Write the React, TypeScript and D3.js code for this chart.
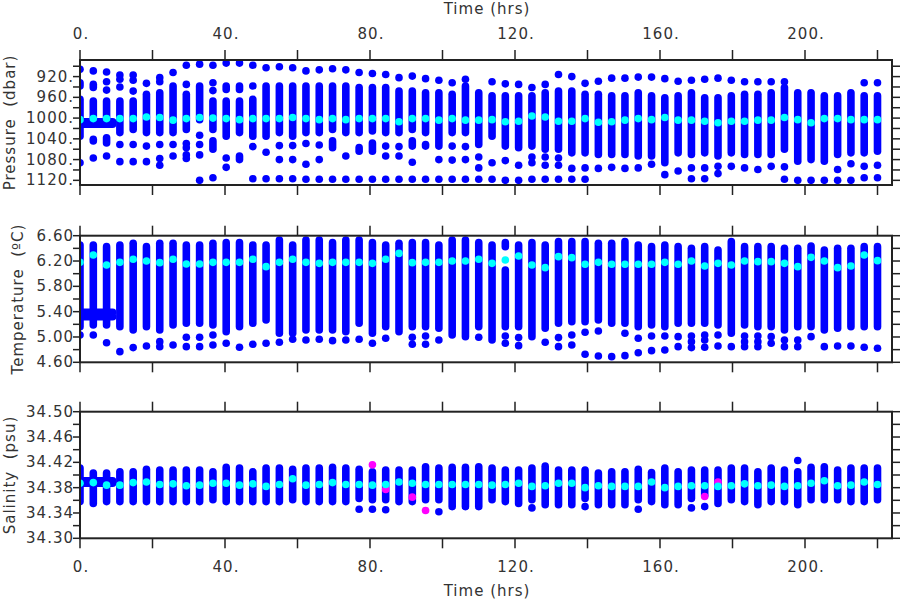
import React from 'react';
import * as d3 from 'd3';

// ---------- data ----------
const times = [0, 3.67, 7.33, 11, 14.67, 18.33, 22, 25.67, 29.33, 33, 36.67, 40.33, 44, 47.67, 51.33, 55, 58.67, 62.33, 66, 69.67, 73.33, 77, 80.67, 84.33, 88, 91.67, 95.33, 99, 102.67, 106.33, 110, 113.67, 117.33, 121, 124.67, 128.33, 132, 135.67, 139.33, 143, 146.67, 150.33, 154, 157.67, 161.33, 165, 168.67, 172.33, 176, 179.67, 183.33, 187, 190.67, 194.33, 198, 201.67, 205.33, 209, 212.67, 216.33, 220];

// each column: list of dense runs [a,b] or single samples [v]
const pressureCols = [
  [[906], [932, 938], [964, 1035], [1086]],
  [[909], [935, 941], [967, 1012], [1041, 1044], [1077]],
  [[911], [930], [946], [967, 1012], [1038, 1048], [1073]],
  [[917], [925], [940], [967, 1028], [1051], [1084]],
  [[917], [927], [948], [967, 1022], [1051], [1084]],
  [[933], [954, 1028], [1054], [1084]],
  [[922], [930], [951, 1028], [1051], [1078], [1091]],
  [[912], [938, 1028], [1051], [1073]],
  [[898], [935], [954, 1022], [1049], [1057], [1071], [1078]],
  [[896], [938, 1003], [1033], [1051], [1071], [1120]],
  [[898], [932], [947], [967, 1022], [1044, 1060], [1115]],
  [[894], [938, 945], [967, 1035], [1077], [1095]],
  [[894], [938, 945], [967, 1028], [1073, 1080]],
  [[898], [938], [964, 1035], [1055], [1117]],
  [[903], [938, 1035], [1066], [1117]],
  [[901], [938, 1028], [1053], [1080], [1117]],
  [[903], [938, 1035], [1053], [1080], [1117]],
  [[909], [938, 1028], [1049], [1089], [1118]],
  [[907], [938, 1028], [1052], [1080], [1118]],
  [[905], [938, 1022], [1044, 1057], [1118]],
  [[907], [938, 1028], [1073], [1118]],
  [[912], [941, 1028], [1057, 1064], [1118]],
  [[914], [941, 1025], [1048, 1064], [1118]],
  [[916], [941, 1028], [1054], [1073], [1118]],
  [[922], [948, 1028], [1055], [1073], [1118]],
  [[919], [948, 1022], [1044, 1054], [1085], [1118]],
  [[924], [951, 1028], [1051, 1054], [1118]],
  [[927], [951, 1054], [1080], [1118]],
  [[932], [954, 1028], [1054], [1081], [1118]],
  [[925], [938, 1028], [1055], [1080], [1118]],
  [[951, 1051], [1075], [1096], [1118]],
  [[930], [957, 1035], [1086], [1118]],
  [[934], [957, 1054], [1082], [1120]],
  [[935], [957, 1057], [1091], [1120]],
  [[941], [957, 1054], [1075], [1086], [1118]],
  [[935], [951, 1060], [1075], [1091], [1118]],
  [[916], [948, 1060], [1077], [1091], [1118]],
  [[920], [948, 1067], [1097], [1118]],
  [[933], [954, 1067], [1096], [1118]],
  [[929], [954, 1070], [1097]],
  [[923], [957, 1070], [1095]],
  [[923], [957, 1070], [1097]],
  [[921], [951, 1073], [1096]],
  [[921], [957, 1073], [1089]],
  [[924], [961, 1086], [1109]],
  [[929], [957, 1067], [1102]],
  [[927], [951, 1070], [1096], [1117]],
  [[925], [961, 1067], [1096], [1117]],
  [[923], [961, 1073], [1093], [1107]],
  [[927], [957, 1067], [1093]],
  [[930], [954, 1070], [1096]],
  [[930], [954, 1070], [1099]],
  [[930], [951, 1070], [1093]],
  [[930], [941, 1060], [1094], [1118]],
  [[951, 1083], [1120]],
  [[951, 1080], [1120]],
  [[957, 1083], [1120]],
  [[957, 1070], [1099], [1120]],
  [[951, 1067], [1088], [1120]],
  [[932], [957, 1067], [1093], [1115]],
  [[932], [957, 1064], [1091], [1115]],
];
const pressureMeans = [1003, 1001, 1001, 1001, 1001, 998, 999, 1004, 1001, 999, 1000, 1001, 1003, 1001, 1001, 1001, 999, 1001, 1003, 1001, 1003, 1001, 1001, 1001, 1007, 1001, 1001, 1004, 1001, 1004, 1004, 1003, 1007, 1006, 996, 998, 1006, 1006, 1001, 1008, 1007, 1004, 1001, 1003, 999, 1004, 1004, 1006, 1009, 1006, 1006, 1004, 1004, 999, 1003, 1009, 1001, 1001, 1003, 1003, 1003];

const temperatureCols = [
  [[5.163, 6.453], [5.032]],
  [[5.19, 6.453], [5.032]],
  [[5.19, 6.427], [4.91]],
  [[5.163, 6.453], [4.768]],
  [[5.111, 6.479], [4.832]],
  [[5.163, 6.427], [4.858]],
  [[5.111, 6.479], [4.926], [4.847]],
  [[5.19, 6.479], [4.874]],
  [[5.216, 6.453], [4.995], [4.847]],
  [[5.216, 6.453], [4.995], [4.847]],
  [[5.19, 6.479], [5.032], [4.874]],
  [[5.084, 6.49], [4.9]],
  [[5.163, 6.49], [4.837]],
  [[5.216, 6.453], [4.884]],
  [[5.268, 6.453], [4.9]],
  [[5.058, 6.532], [4.916]],
  [[5.058, 6.453], [4.963]],
  [[5.111, 6.532], [4.953]],
  [[5.111, 6.532], [4.963]],
  [[5.111, 6.49], [4.942]],
  [[5.084, 6.532], [4.953]],
  [[5.216, 6.532], [4.963]],
  [[5.058, 6.49], [4.9]],
  [[5.163, 6.453], [4.979]],
  [[5.084, 6.479]],
  [[5.163, 6.49], [4.995], [4.884]],
  [[5.163, 6.49], [5.016], [4.884]],
  [[5.137, 6.453], [4.953]],
  [[5.032, 6.532]],
  [[5.005, 6.532]],
  [[5.163, 6.49], [4.995]],
  [[4.953, 6.453]],
  [[6.427, 6.49], [5.163, 6.058], [5.016], [4.9]],
  [[5.163, 6.453], [4.99], [4.863]],
  [[5.005, 6.49]],
  [[5.137, 6.453], [4.916]],
  [[5.216, 6.506], [4.99], [4.847]],
  [[5.242, 6.506], [5.032], [4.874]],
  [[5.242, 6.506], [5.074], [4.726]],
  [[5.268, 6.479], [5.095], [4.7]],
  [[5.216, 6.479], [4.689]],
  [[5.216, 6.506], [5.058], [4.705]],
  [[5.163, 6.453], [4.979], [4.752]],
  [[5.19, 6.427], [5.016], [4.784]],
  [[5.163, 6.453], [5.016], [4.795]],
  [[5.216, 6.427], [5.005], [4.847]],
  [[5.216, 6.4], [5.016], [4.926], [4.832]],
  [[5.216, 6.427], [5.032], [4.953], [4.837]],
  [[5.19, 6.374], [5.032], [4.858]],
  [[5.058, 6.506], [4.847]],
  [[5.19, 6.427], [5.016], [4.926], [4.847]],
  [[5.163, 6.427], [5.016], [4.926], [4.847]],
  [[5.163, 6.427], [5.005], [4.9]],
  [[5.111, 6.4], [4.953], [4.847]],
  [[5.163, 6.4], [4.953], [4.847]],
  [[5.163, 6.437], [5.005]],
  [[5.111, 6.374], [4.847]],
  [[5.137, 6.4], [4.858]],
  [[5.163, 6.4], [4.858]],
  [[5.163, 6.427], [4.837]],
  [[5.163, 6.427], [4.821]],
];
const temperatureMeans = [6.179, 6.295, 6.137, 6.179, 6.227, 6.2, 6.174, 6.227, 6.153, 6.153, 6.179, 6.179, 6.179, 6.227, 6.111, 6.179, 6.227, 6.179, 6.163, 6.179, 6.179, 6.179, 6.163, 6.227, 6.321, 6.174, 6.179, 6.179, 6.2, 6.2, 6.227, 6.163, 6.216, 6.279, 6.137, 6.095, 6.269, 6.253, 6.148, 6.179, 6.148, 6.148, 6.148, 6.148, 6.179, 6.148, 6.2, 6.121, 6.163, 6.137, 6.2, 6.19, 6.19, 6.163, 6.111, 6.258, 6.2, 6.095, 6.121, 6.295, 6.206];

const salinityCols = [
  [[34.358, 34.411]],
  [[34.355, 34.403]],
  [[34.358, 34.403]],
  [[34.358, 34.405]],
  [[34.358, 34.405]],
  [[34.358, 34.409]],
  [[34.358, 34.408]],
  [[34.358, 34.408]],
  [[34.358, 34.408]],
  [[34.358, 34.408]],
  [[34.361, 34.405]],
  [[34.358, 34.412]],
  [[34.358, 34.411]],
  [[34.358, 34.405]],
  [[34.358, 34.411]],
  [[34.358, 34.411]],
  [[34.361, 34.409]],
  [[34.358, 34.411]],
  [[34.358, 34.411]],
  [[34.358, 34.412]],
  [[34.358, 34.411]],
  [[34.363, 34.409], [34.346]],
  [[34.361, 34.405], [34.346]],
  [[34.361, 34.408], [34.345]],
  [[34.358, 34.408]],
  [[34.358, 34.408]],
  [[34.361, 34.413]],
  [[34.361, 34.411], [34.342]],
  [[34.35, 34.412]],
  [[34.35, 34.412]],
  [[34.35, 34.413]],
  [[34.361, 34.411]],
  [[34.358, 34.408]],
  [[34.355, 34.408]],
  [[34.361, 34.411], [34.348]],
  [[34.353, 34.414]],
  [[34.353, 34.408]],
  [[34.353, 34.408]],
  [[34.363, 34.408], [34.35]],
  [[34.353, 34.403]],
  [[34.353, 34.405]],
  [[34.353, 34.405]],
  [[34.361, 34.409], [34.346]],
  [[34.358, 34.404]],
  [[34.353, 34.411]],
  [[34.353, 34.405]],
  [[34.363, 34.408], [34.348]],
  [[34.368, 34.408], [34.35]],
  [[34.355, 34.408]],
  [[34.361, 34.411]],
  [[34.358, 34.411]],
  [[34.353, 34.405]],
  [[34.358, 34.411]],
  [[34.358, 34.408]],
  [[34.423], [34.353, 34.405]],
  [[34.361, 34.412]],
  [[34.361, 34.413]],
  [[34.361, 34.408]],
  [[34.358, 34.411]],
  [[34.358, 34.411]],
  [[34.361, 34.411]],
];
const salinityMeans = [34.387, 34.388, 34.384, 34.384, 34.388, 34.389, 34.385, 34.386, 34.383, 34.384, 34.387, 34.387, 34.384, 34.386, 34.382, 34.385, 34.394, 34.384, 34.385, 34.388, 34.385, 34.385, 34.384, 34.385, 34.389, 34.387, 34.385, 34.385, 34.385, 34.385, 34.385, 34.384, 34.385, 34.387, 34.382, 34.383, 34.387, 34.387, 34.38, 34.383, 34.382, 34.382, 34.382, 34.389, 34.38, 34.382, 34.383, 34.383, 34.382, 34.383, 34.386, 34.383, 34.384, 34.382, 34.383, 34.387, 34.391, 34.383, 34.384, 34.389, 34.385];
// flagged salinity samples: [column index, value]
const salinityFlagged = [[22, 34.416], [23, 34.377], [25, 34.365], [26, 34.344], [47, 34.366], [48, 34.389]];

// initial stationary segment (hours) and its levels
const stationTimes = [0, 9];
const pressureStation = [1007, 1012];
const temperatureStation = [5.32, 5.39];
const salinityStation = [34.387, 34.391];

const timeTicks = [0, 20, 40, 60, 80, 100, 120, 140, 160, 180, 200, 220];
const timeLabels = [0, 40, 80, 120, 160, 200];
const pressureTicks = [900, 920, 940, 960, 980, 1000, 1020, 1040, 1060, 1080, 1100, 1120];
const pressureLabels = [920, 960, 1000, 1040, 1080, 1120];
const temperatureTicks = [4.6, 4.8, 5.0, 5.2, 5.4, 5.6, 5.8, 6.0, 6.2, 6.4, 6.6];
const temperatureLabels = [4.6, 5.0, 5.4, 5.8, 6.2, 6.6];
const salinityTicks = [34.30, 34.32, 34.34, 34.36, 34.38, 34.40, 34.42, 34.44, 34.46, 34.48, 34.50];
const salinityLabels = [34.30, 34.34, 34.38, 34.42, 34.46, 34.50];

// ---------- layout ----------
const W = 900, H = 600;
const X0 = 80, X1 = 892;
const BLUE = '#0000ff', CYAN = '#00ffff', MAGENTA = '#ff00ff';
const INK = '#222';
const TXT = '#333';
const R = 3.8;
const FONT = "'DejaVu Sans', sans-serif";

const x = d3.scaleLinear().domain([0, 224]).range([X0, X1]);

type Panel = {
  id: string; top: number; bottom: number; domain: [number, number];
  cols: number[][][]; means: number[]; station: number[];
  ticks: number[]; labels: number[]; fmt: (v: number) => string;
  title: string; titleX: number; flagged?: number[][];
};

const panels: Panel[] = [
  { id: 'p', top: 60, bottom: 185, domain: [1129, 888], cols: pressureCols, means: pressureMeans, station: pressureStation,
    ticks: pressureTicks, labels: pressureLabels, fmt: (v) => d3.format('d')(v) + '.', title: 'Pressure  (dbar)', titleX: 10 },
  { id: 't', top: 235.7, bottom: 362.3, domain: [4.6, 6.6], cols: temperatureCols, means: temperatureMeans, station: temperatureStation,
    ticks: temperatureTicks, labels: temperatureLabels, fmt: d3.format('.2f'), title: 'Temperature  (ºC)', titleX: 18 },
  { id: 's', top: 411.7, bottom: 538.3, domain: [34.3, 34.5], cols: salinityCols, means: salinityMeans, station: salinityStation,
    ticks: salinityTicks, labels: salinityLabels, fmt: d3.format('.2f'), title: 'Salinity  (psu)', titleX: 10, flagged: salinityFlagged },
];

function PanelView({ p, first, last }: { p: Panel; first: boolean; last: boolean }) {
  const y = d3.scaleLinear().domain(p.domain).range([p.bottom, p.top]);
  const clipId = `clip-${p.id}`;
  const isLabel = (v: number) => p.labels.some((l) => Math.abs(l - v) < 1e-6);
  const textProps = { fontFamily: FONT, fontSize: 15, letterSpacing: 1, fill: TXT };
  return (
    <g>
      <defs>
        <clipPath id={clipId}>
          <rect x={X0} y={p.top} width={X1 - X0} height={p.bottom - p.top} />
        </clipPath>
      </defs>
      <g clipPath={`url(#${clipId})`}>
        {p.cols.map((col, i) =>
          col.map((seg, j) =>
            seg.length === 1 ? (
              <circle key={`${i}-${j}`} cx={x(times[i])} cy={y(seg[0])} r={R} fill={BLUE} />
            ) : (
              <line key={`${i}-${j}`} x1={x(times[i])} x2={x(times[i])} y1={y(seg[0])} y2={y(seg[1])}
                stroke={BLUE} strokeWidth={R * 2} strokeLinecap="round" />
            )
          )
        )}
        {p.station.map((v, k) => (
          <line key={`st${k}`} x1={x(stationTimes[0])} x2={x(stationTimes[1])} y1={y(v)} y2={y(v)}
            stroke={BLUE} strokeWidth={R * 2} strokeLinecap="round" />
        ))}
        {(p.flagged || []).map(([ci, v], k) => (
          <circle key={`f${k}`} cx={x(times[ci])} cy={y(v)} r={R} fill={MAGENTA} />
        ))}
        {p.means.map((v, i) => (
          <circle key={`m${i}`} cx={x(times[i])} cy={y(v)} r={R} fill={CYAN} />
        ))}
      </g>
      <rect x={X0} y={p.top} width={X1 - X0} height={p.bottom - p.top} fill="none" stroke={INK} strokeWidth={2} />
      {timeTicks.map((t) => (
        <g key={`xt${t}`} stroke={INK} strokeWidth={1.5}>
          <line x1={x(t)} x2={x(t)} y1={p.top} y2={p.top - 10} />
          <line x1={x(t)} x2={x(t)} y1={p.bottom} y2={p.bottom + 10} />
        </g>
      ))}
      {p.ticks.map((v) => (
        <g key={`yt${v}`} stroke={INK} strokeWidth={1.5}>
          <line x1={X0} x2={X0 - 7} y1={y(v)} y2={y(v)} />
          <line x1={X1} x2={X1 + 8} y1={y(v)} y2={y(v)} />
        </g>
      ))}
      {p.ticks.filter(isLabel).map((v) => (
        <text key={`yl${v}`} x={74} y={y(v)} textAnchor="end" dominantBaseline="central" {...textProps}>{p.fmt(v)}</text>
      ))}
      <text transform={`translate(${p.titleX},${(p.top + p.bottom) / 2}) rotate(-90)`} textAnchor="middle"
        dominantBaseline="central" {...textProps} style={{ whiteSpace: 'pre' }}>{p.title}</text>
      {first && timeLabels.map((t) => (
        <text key={`tl${t}`} x={x(t) + 1} y={39} textAnchor="middle" {...textProps}>{`${t}.`}</text>
      ))}
      {first && (
        <text x={(X0 + X1) / 2 + 1} y={14} textAnchor="middle" {...textProps}>Time (hrs)</text>
      )}
      {last && timeLabels.map((t) => (
        <text key={`bl${t}`} x={x(t) + 1} y={572} textAnchor="middle" {...textProps}>{`${t}.`}</text>
      ))}
      {last && (
        <text x={(X0 + X1) / 2 + 1} y={596} textAnchor="middle" {...textProps}>Time (hrs)</text>
      )}
    </g>
  );
}

export default function App() {
  return (
    <svg width={W} height={H} style={{ position: 'absolute', left: 0, top: 0, background: '#fff' }}>
      <rect x={0} y={0} width={W} height={H} fill="#fff" />
      {panels.map((p, i) => (
        <PanelView key={p.id} p={p} first={i === 0} last={i === panels.length - 1} />
      ))}
    </svg>
  );
}
